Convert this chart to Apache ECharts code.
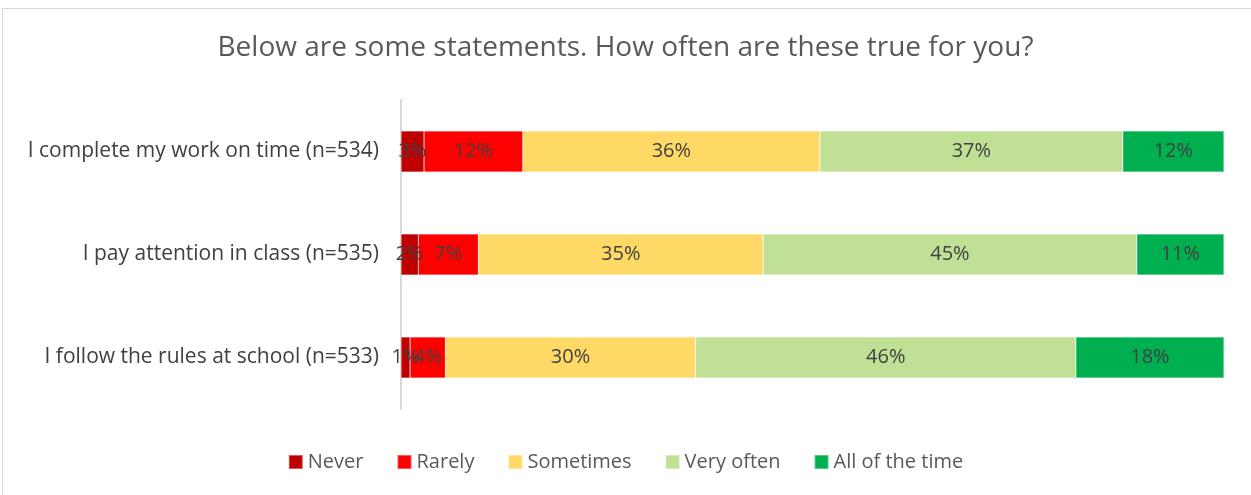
<!DOCTYPE html>
<html>
<head>
<meta charset="utf-8">
<script src="https://cdn.jsdelivr.net/npm/echarts@6/dist/echarts.min.js"></script>
<style>
  html, body { margin: 0; padding: 0; background: #fff; }
  #frame { position: absolute; left: 2px; top: 8px; width: 1260px; height: 500px; border: 1px solid #d9d9d9; box-sizing: border-box; }
  #chart { position: absolute; left: 0; top: 0; width: 1251px; height: 495px; }
</style>
</head>
<body>
<div id="frame"></div>
<div id="chart"></div>
<script>
// Survey statements (top to bottom as displayed)
const statements = [
  'I complete my work on time (n=534)',
  'I pay attention in class (n=535)',
  'I follow the rules at school (n=533)'
];
const responseLevels = ['Never', 'Rarely', 'Sometimes', 'Very often', 'All of the time'];

// Share of respondents (%) per level, same order as statements
const never      = [2.8, 2.1, 1.1];
const rarely     = [12.0, 7.3, 4.3];
const sometimes  = [36.1, 34.6, 30.4];
const veryOften  = [36.8, 45.4, 46.2];
const allOfTime  = [12.3, 10.6, 18.0];

const levelColors = ['#c00000', '#ff0000', '#ffd966', '#c0e096', '#00b050'];
const seriesValues = [never, rarely, sometimes, veryOften, allOfTime];

const FONT = '"Open Sans", "Noto Sans", sans-serif';
const TEXT = '#404040';

const chart = echarts.init(document.getElementById('chart'), null, { renderer: 'canvas' });

chart.setOption({
  animation: false,
  title: {
    text: 'Below are some statements. How often are these true for you?',
    left: 'center',
    top: 29,
    textStyle: { fontFamily: FONT, fontSize: 28, fontWeight: 'normal', color: '#595959' }
  },
  legend: {
    data: responseLevels,
    bottom: 18,
    left: 'center',
    itemWidth: 14,
    itemHeight: 14,
    itemGap: 33,
    icon: 'rect',
    textStyle: { fontFamily: FONT, fontSize: 20, color: '#595959' }
  },
  grid: { left: 401, right: 27, top: 100, height: 309, containLabel: false },
  xAxis: {
    type: 'value',
    min: 0,
    max: 100,
    show: false
  },
  yAxis: {
    type: 'category',
    inverse: true,
    data: statements,
    axisLine: { show: true, lineStyle: { color: '#d9d9d9', width: 2 } },
    axisTick: { show: false },
    axisLabel: { fontFamily: FONT, fontSize: 21, color: TEXT, margin: 22 }
  },
  series: responseLevels.map((name, i) => ({
    name: name,
    type: 'bar',
    stack: 'total',
    barWidth: '40%',
    data: seriesValues[i],
    itemStyle: { color: levelColors[i], borderColor: 'rgba(255,255,255,0.35)', borderWidth: 0.6 },
    label: {
      show: true,
      position: 'inside',
      fontFamily: FONT,
      fontSize: 20,
      color: TEXT,
      formatter: p => Math.round(p.value) + '%'
    }
  }))
});
</script>
</body>
</html>
